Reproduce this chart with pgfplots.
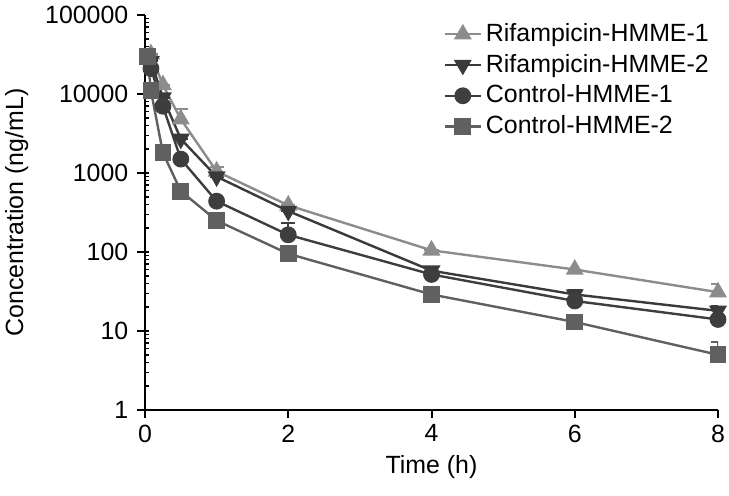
\documentclass[border=0pt]{standalone}
\usepackage{fontspec}
\setmainfont{Liberation Sans}
\usepackage{pgfplots}
\pgfplotsset{compat=1.18}
\definecolor{cA}{HTML}{8C8C8C}
\definecolor{cB}{HTML}{3A3A3A}
\definecolor{cC}{HTML}{3E3E3E}
\definecolor{cD}{HTML}{606060}
\begin{document}
\fontsize{12.5}{15}\selectfont
\begin{tikzpicture}
\path[use as bounding box] (-72.5bp,-43bp) rectangle (292bp,205bp);
\begin{axis}[
  scale only axis, width=286.5bp, height=197.5bp,
  ymode=log, xmin=0, xmax=8, ymin=1, ymax=100000,
  axis x line=bottom, axis y line=left,
  axis line style={-, line width=1.1bp, black},
  xtick={0,2,4,6,8},
  ytick={1,10,100,1000,10000,100000},
  yticklabels={1,10,100,1000,10000,100000},
  tick align=outside,
  major tick length=4bp, minor tick length=2.2bp,
  every major tick/.style={line width=1bp, black},
  every minor tick/.style={line width=0.8bp, black, xshift=2.2bp},
  /pgf/number format/assume math mode=true,
  tick label style={font=\fontsize{12.5}{15}\selectfont},
  xticklabel style={yshift=1bp},
  xlabel={Time (h)}, ylabel={Concentration (ng/mL)},
  label style={font=\fontsize{12.5}{15}\selectfont},
  xlabel style={yshift=2bp},
  legend style={draw=none, fill=none, at={(0.51,1.0)}, anchor=north west,
    font=\fontsize{12.5}{15}\selectfont, row sep=0.5bp},
  legend cell align=left,
  legend image code/.code={\draw[#1] (0bp,0bp) -- (18bp,0bp); \draw[#1, mark repeat=1] plot coordinates {(9bp,0bp)};},
  every axis plot/.append style={line width=1.2bp},
  error bars/error bar style={line width=1bp},
  error bars/error mark options={rotate=90, mark size=3.5bp, line width=1bp},
]
\addplot[color=cA, mark=triangle*, mark size=4bp, mark options={solid}, error bars/.cd, y dir=plus, y explicit]
 coordinates {(0.083,32000) +- (0,0) (0.25,13000) +- (0,0) (0.5,4800) +- (0,1700) (1,1050) +- (0,150) (2,390) +- (0,0) (4,105) +- (0,0) (6,60) +- (0,0) (8,31) +- (0,8)};
\addlegendentry{Rifampicin-HMME-1}
\addplot[color=cB, mark=triangle*, mark size=4bp, mark options={rotate=180, solid}, error bars/.cd, y dir=plus, y explicit]
 coordinates {(0.083,26000) +- (0,0) (0.25,9000) +- (0,0) (0.5,2700) +- (0,0) (1,900) +- (0,0) (2,330) +- (0,0) (4,58) +- (0,0) (6,29) +- (0,4) (8,18) +- (0,3)};
\addlegendentry{Rifampicin-HMME-2}
\addplot[color=cC, mark=*, mark size=3.6bp, error bars/.cd, y dir=plus, y explicit]
 coordinates {(0.083,21000) +- (0,0) (0.25,7000) +- (0,0) (0.5,1500) +- (0,0) (1,440) +- (0,0) (2,165) +- (0,70) (4,52) +- (0,0) (6,24) +- (0,0) (8,14) +- (0,0)};
\addlegendentry{Control-HMME-1}
\addplot[color=cD, mark=square*, mark size=3.6bp, error bars/.cd, y dir=plus, y explicit]
 coordinates {(0.033,30000) +- (0,0) (0.083,11000) +- (0,0) (0.25,1800) +- (0,0) (0.5,590) +- (0,0) (1,250) +- (0,0) (2,95) +- (0,0) (4,29) +- (0,0) (6,13) +- (0,0) (8,5) +- (0,2.2)};
\addlegendentry{Control-HMME-2}
\end{axis}
\end{tikzpicture}
\end{document}
